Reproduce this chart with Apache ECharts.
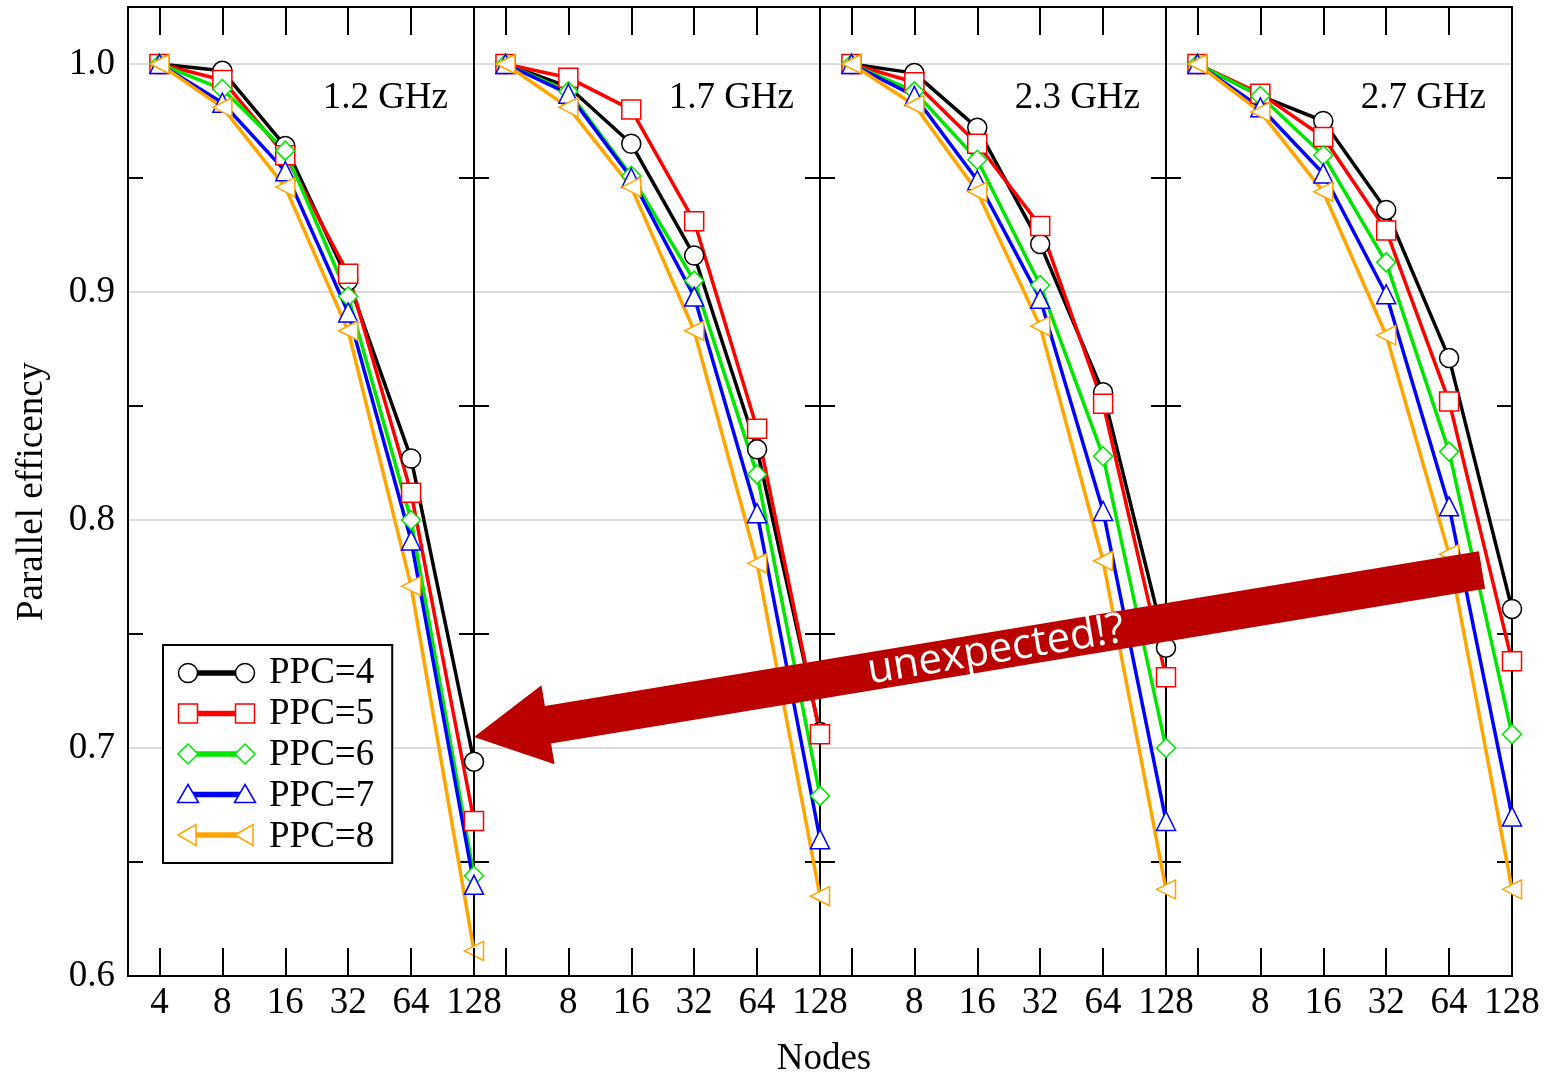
<!DOCTYPE html>
<html>
<head>
<meta charset="utf-8">
<style>
  html, body { margin: 0; padding: 0; background: #fff; }
  #chart { width: 1555px; height: 1078px; }
</style>
<script src="https://cdn.jsdelivr.net/npm/echarts@6/dist/echarts.min.js"></script>
</head>
<body>
<div id="chart"></div>
<script>
// nodes on the x axis (log2 spaced)
const nodes = [4, 8, 16, 32, 64, 128];
const freqs = ["1.2 GHz", "1.7 GHz", "2.3 GHz", "2.7 GHz"];
const ppcNames = ["PPC=4", "PPC=5", "PPC=6", "PPC=7", "PPC=8"];

// parallel efficiency, one row per PPC value
const eff12 = [
  [1.000, 0.997, 0.964, 0.905, 0.827, 0.694],
  [1.000, 0.993, 0.960, 0.908, 0.812, 0.668],
  [1.000, 0.989, 0.962, 0.898, 0.800, 0.644],
  [1.000, 0.983, 0.953, 0.891, 0.791, 0.640],
  [1.000, 0.981, 0.946, 0.883, 0.771, 0.611],
];
const eff17 = [
  [1.000, 0.990, 0.965, 0.916, 0.831, 0.707],
  [1.000, 0.994, 0.980, 0.931, 0.840, 0.706],
  [1.000, 0.988, 0.951, 0.905, 0.820, 0.679],
  [1.000, 0.987, 0.950, 0.898, 0.803, 0.660],
  [1.000, 0.981, 0.946, 0.883, 0.781, 0.635],
];
const eff23 = [
  [1.000, 0.996, 0.972, 0.921, 0.856, 0.744],
  [1.000, 0.992, 0.965, 0.929, 0.851, 0.731],
  [1.000, 0.988, 0.958, 0.903, 0.828, 0.700],
  [1.000, 0.986, 0.949, 0.897, 0.804, 0.668],
  [1.000, 0.982, 0.944, 0.885, 0.782, 0.638],
];
const eff27 = [
  [1.000, 0.986, 0.975, 0.936, 0.871, 0.761],
  [1.000, 0.987, 0.968, 0.927, 0.852, 0.738],
  [1.000, 0.986, 0.960, 0.913, 0.830, 0.706],
  [1.000, 0.981, 0.952, 0.899, 0.806, 0.670],
  [1.000, 0.979, 0.944, 0.881, 0.785, 0.638],
];
const panels = [eff12, eff17, eff23, eff27];

// y ticks: labels every 0.1, small tick marks in between
const yMinorTicks = [0.65, 0.75, 0.85, 0.95];

const colors = ["#000000", "#ff0000", "#00e600", "#0000ff", "#ffa500"];
const symbols = ["circle", "rect", "diamond", "triangle", "triangle"];
const serif = "Liberation Serif";

const panelLeft = 128, panelW = 346, plotTop = 7, plotH = 969;
const black = { color: "#000", width: 2 };

let grids = [], xAxes = [], yAxes = [], series = [], graphics = [];

panels.forEach((eff, p) => {
  grids.push({ left: panelLeft + p * panelW, top: plotTop, width: panelW, height: plotH });

  const xBase = {
    type: "log", logBase: 2, min: 2 * Math.SQRT2, max: 128, gridIndex: p, z: 5,
    axisLine: { lineStyle: black },
    axisTick: { inside: true, length: 28, lineStyle: black },
    splitLine: { show: false },
  };
  xAxes.push(Object.assign({}, xBase, {
    position: "bottom",
    axisLabel: {
      margin: 9, fontFamily: serif, fontSize: 37, color: "#000",
      formatter: (v) => {
        const r = Math.round(v);
        if (Math.abs(v - r) > 1e-6) return "";
        if (p > 0 && r < 5) return "";
        return String(r);
      },
    },
  }));
  xAxes.push(Object.assign({}, xBase, { position: "top", axisLabel: { show: false } }));

  const yBase = { type: "value", min: 0.6, max: 1.025, gridIndex: p };
  // main axis: labels + grid lines
  yAxes.push(Object.assign({}, yBase, {
    position: "left", interval: 0.1,
    axisLine: { show: true, lineStyle: black },
    axisTick: { show: false },
    splitLine: { show: true, lineStyle: { color: "#dcdcdc", width: 2 } },
    axisLabel: {
      show: p === 0, margin: 13, fontFamily: serif, fontSize: 37, color: "#000",
      formatter: (v) => (v > 1.01 ? "" : v.toFixed(1)),
    },
    name: p === 0 ? "Parallel efficency" : "",
    nameLocation: "middle", nameGap: 77, nameRotate: 90,
    nameTextStyle: { fontFamily: serif, fontSize: 37, color: "#000" },
  }));
  // tick-only axes on both sides
  ["left", "right"].forEach((pos) => {
    yAxes.push(Object.assign({}, yBase, {
      position: pos,
      axisLine: { show: pos === "right", lineStyle: black },
      axisTick: { inside: true, length: 15, customValues: yMinorTicks, lineStyle: black },
      axisLabel: { show: false },
      splitLine: { show: false },
    }));
  });

  eff.forEach((vals, s) => {
    series.push({
      name: ppcNames[s], type: "line", xAxisIndex: 2 * p, yAxisIndex: 3 * p,
      data: nodes.map((n, i) => [n, vals[i]]),
      symbol: symbols[s], symbolSize: 19, symbolRotate: s === 4 ? 90 : 0,
      showAllSymbol: true, clip: false,
      lineStyle: { color: colors[s], width: 3.5 },
      itemStyle: { color: "#fff", borderColor: colors[s], borderWidth: 1.5 },
      emphasis: { disabled: true },
    });
  });

  graphics.push({
    type: "text", z: 10,
    x: panelLeft + (p + 1) * panelW - 26, y: 98,
    style: { text: freqs[p], font: '37px "Liberation Serif"', fill: "#000",
             align: "right", verticalAlign: "middle", textAlign: "right", textVerticalAlign: "middle" },
  });
});

// x axis title
graphics.push({
  type: "text", z: 10, x: 824, y: 1059,
  style: { text: "Nodes", font: '37px "Liberation Serif"', fill: "#000",
           align: "center", verticalAlign: "middle", textAlign: "center", textVerticalAlign: "middle" },
});

// legend icons: line with a marker at both ends
function marker(s, cx, cy) {
  const style = { fill: "#fff", stroke: colors[s], lineWidth: 1.5 };
  const r = 9.5;
  if (s === 0) return { type: "circle", z: 10, shape: { cx: cx, cy: cy, r: r }, style: style };
  if (s === 1) return { type: "rect", z: 10, shape: { x: cx - r, y: cy - r, width: 2 * r, height: 2 * r }, style: style };
  let pts;
  if (s === 2) pts = [[cx, cy - 10], [cx + 10, cy], [cx, cy + 10], [cx - 10, cy]];
  else if (s === 3) pts = [[cx, cy - 10], [cx + 10.5, cy + 8], [cx - 10.5, cy + 8]];
  else pts = [[cx - 10, cy], [cx + 8, cy - 10.5], [cx + 8, cy + 10.5]];
  return { type: "polygon", z: 10, shape: { points: pts }, style: style };
}
ppcNames.forEach((nm, s) => {
  const cy = 673 + 40.5 * s;
  graphics.push({ type: "line", z: 10, shape: { x1: 188, y1: cy, x2: 245, y2: cy },
                  style: { stroke: colors[s], lineWidth: 5.5 } });
  graphics.push(marker(s, 188, cy));
  graphics.push(marker(s, 245, cy));
});

// annotation arrow
const tip = [474, 737], tail = [1482, 570];
const dx = tail[0] - tip[0], dy = tail[1] - tip[1];
const len = Math.sqrt(dx * dx + dy * dy);
const u = [dx / len, dy / len], nrm = [-u[1], u[0]];
const headLen = 75, headHalf = 40, shaftHalf = 19;
const pt = (base, a, b) => [base[0] + u[0] * a + nrm[0] * b, base[1] + u[1] * a + nrm[1] * b];
graphics.push({
  type: "polygon", z: 20,
  shape: { points: [
    tip, pt(tip, headLen, headHalf), pt(tip, headLen, shaftHalf), pt(tail, 0, shaftHalf),
    pt(tail, 0, -shaftHalf), pt(tip, headLen, -shaftHalf), pt(tip, headLen, -headHalf),
  ] },
  style: { fill: "#bb0000" },
});
const textPos = pt(tip, (996 - tip[0]) / u[0], 0);
graphics.push({
  type: "text", z: 21, x: textPos[0], y: textPos[1], rotation: -Math.atan2(dy, dx),
  style: { text: "unexpected!?", font: '42px "Open Sans"', fill: "#fff",
           align: "center", verticalAlign: "middle", textAlign: "center", textVerticalAlign: "middle" },
});

const chart = echarts.init(document.getElementById("chart"));
chart.setOption({
  animation: false,
  backgroundColor: "#fff",
  grid: grids,
  xAxis: xAxes,
  yAxis: yAxes,
  legend: {
    data: ppcNames, orient: "vertical", left: 163, top: 645,
    padding: [10, 18, 7, 10], itemWidth: 90, itemHeight: 32, itemGap: 4,
    backgroundColor: "#fff", borderColor: "#000", borderWidth: 2, borderRadius: 0,
    icon: "rect", itemStyle: { opacity: 0 }, lineStyle: { opacity: 0 },
    textStyle: { fontFamily: serif, fontSize: 37, color: "#000" },
    selectedMode: false,
  },
  graphic: graphics,
  series: series,
});
</script>
</body>
</html>
